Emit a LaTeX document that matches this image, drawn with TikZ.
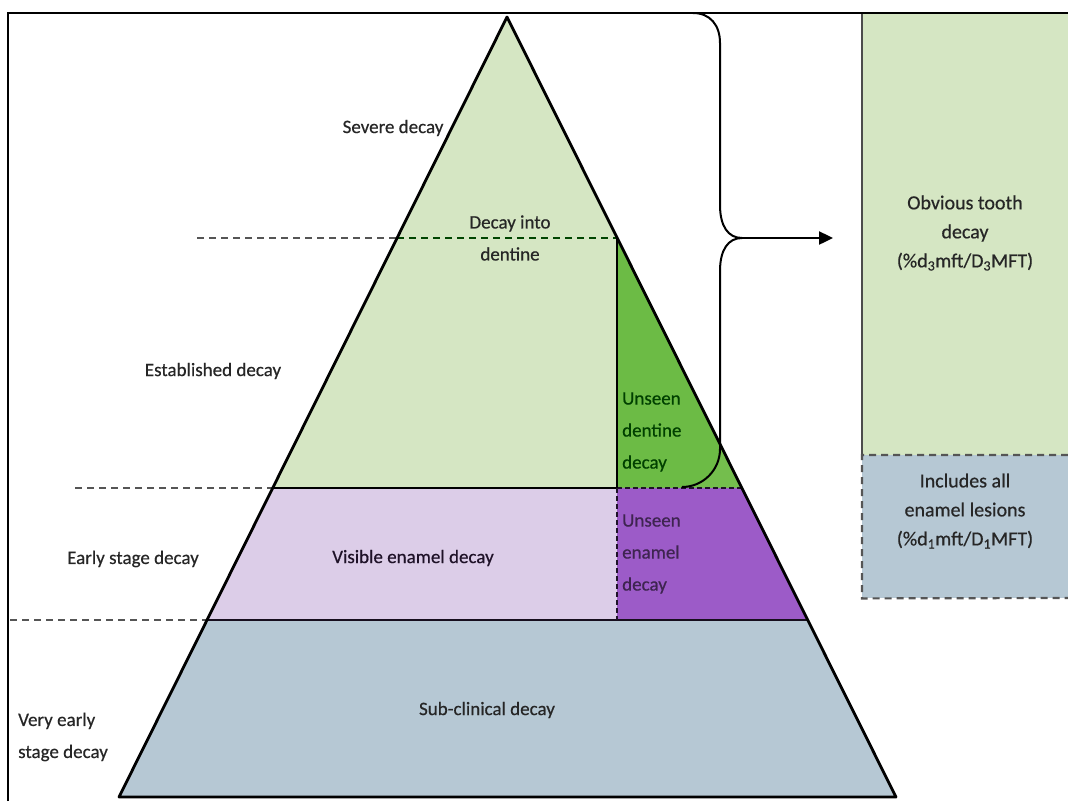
\documentclass[tikz,border=0pt]{standalone}
\usepackage{fontspec}
\setmainfont{Carlito}
\newfontfamily\lblfont{Carlito}[FakeBold=0.5]
\usetikzlibrary{arrows.meta}

\definecolor{lgreen}{HTML}{D5E6C3}
\definecolor{mgreen}{HTML}{74BE4D}
\definecolor{dgreen}{HTML}{6CBB45}
\definecolor{lpurple}{HTML}{DCCDE8}
\definecolor{dpurple}{HTML}{9C5BC8}
\definecolor{greyblue}{HTML}{B6C8D4}
\definecolor{dashgrey}{HTML}{555555}

\tikzset{
  lbl/.style={font=\lblfont\fontsize{19}{32}\selectfont, text=black!85, inner sep=0pt, align=center},
  boxlbl/.style={lbl, font=\lblfont\fontsize{20}{29}\selectfont},
  lvlline/.style={line width=2.2pt, dash pattern=on 7pt off 5pt, dashgrey},
  edge/.style={line width=2.8pt, black, line join=round}
}

\begin{document}
\begin{tikzpicture}[x=1pt,y=-1pt]
\useasboundingbox (0,0) rectangle (1068,801);

% Frame
\draw[line width=2.4pt] (8,801) -- (8,13) -- (1068,13);

% Right-hand boxes
\node[fill=lgreen, minimum width=206pt, minimum height=442pt, inner sep=0pt, anchor=north west] (obvious) at (862,14) {};
\node[fill=greyblue, minimum width=206pt, minimum height=143pt, inner sep=0pt, anchor=north west] (enamelbox) at (862,455) {};
\draw[line width=1.6pt, black!70] (obvious.north west) -- (obvious.south west);
\draw[lvlline] (1068,455) -- (enamelbox.north west) -- (enamelbox.south west) -- (1068,598);
\node[boxlbl] (obvioustxt) at (965,233) {Obvious tooth\\decay\\(\%d\textsubscript{3}mft/D\textsubscript{3}MFT)};
\node[boxlbl] (includestxt) at (965,511) {Includes all\\enamel lesions\\(\%d\textsubscript{1}mft/D\textsubscript{1}MFT)};

% Pyramid fills
\fill[lgreen] (507,17) -- (741.3,488) -- (272.7,488) -- cycle;
\fill[mgreen] (617,238) -- (741.3,488) -- (617,488) -- cycle;
\begin{scope}
  \clip (617,238) -- (741.3,488) -- (617,488) -- cycle;
  \fill[dgreen] (617,230) -- (720,230) -- (720,449) .. controls (720,470) and (703,487) .. (682,487) -- (617,487) -- cycle;
\end{scope}
\fill[lpurple] (272.7,488) -- (617,488) -- (617,620) -- (207,620) -- cycle;
\fill[dpurple] (617,488) -- (741.3,488) -- (807,620) -- (617,620) -- cycle;
\fill[greyblue] (207,620) -- (807,620) -- (896,797) -- (119,797) -- cycle;

% Level lines
\draw[lvlline] (197,238) -- (397,238);
\draw[lvlline, black!55!green!60!black] (397,238) -- (617,238);
\draw[lvlline] (75,488) -- (272.7,488);
\draw[lvlline] (10,620) -- (207,620);
\draw[line width=2.6pt] (272.7,488) -- (617,488);
\draw[line width=1.8pt, dash pattern=on 5pt off 3pt, black!80!dpurple] (617,488) -- (741.3,488);
\draw[line width=2pt, black!85!dpurple] (207,620) -- (807,620);
\draw[line width=2.4pt] (617,238) -- (617,488);
\draw[line width=1.8pt, dash pattern=on 5pt off 3pt, black!80!dpurple] (617,488) -- (617,620);

% Pyramid outline
\draw[edge] (507,17) -- (896,797) -- (119,797) -- cycle;

% Brace and arrow
\coordinate (cusp) at (742,238);
\draw[line width=2pt] (693,13) .. controls (710,13) and (720,25) .. (720,43) -- (720,205)
  .. controls (720,226) and (728,238) .. (cusp)
  .. controls (728,238) and (720,250) .. (720,271) -- (720,449)
  .. controls (720,470) and (703,487) .. (682,487);
\draw[line width=2.4pt, -{Triangle[length=14pt,width=13pt]}] (cusp) -- ([xshift=-29pt]cusp -| obvious.west);

% Labels
\node[lbl] (severe) at (393,128) {Severe decay};
\node[lbl] (intodentine) at (510,238) {Decay into\\dentine};
\node[lbl] (established) at (213,371) {Established decay};
\node[lbl, align=left, anchor=west, text=black!75!green] (unseendentine) at (622,432) {Unseen\\dentine\\decay};
\node[lbl] (early) at (133,559) {Early stage decay};
\node[lbl, text=black!80!dpurple] (visible) at (413,558) {Visible enamel decay};
\node[lbl, align=left, anchor=west, text=black!60!dpurple] (unseenenamel) at (622,554) {Unseen\\enamel\\decay};
\node[lbl, align=left, anchor=west] (veryearly) at (18,737) {Very early\\stage decay};
\node[lbl] (subclinical) at (487,710) {Sub-clinical decay};
\end{tikzpicture}
\end{document}
